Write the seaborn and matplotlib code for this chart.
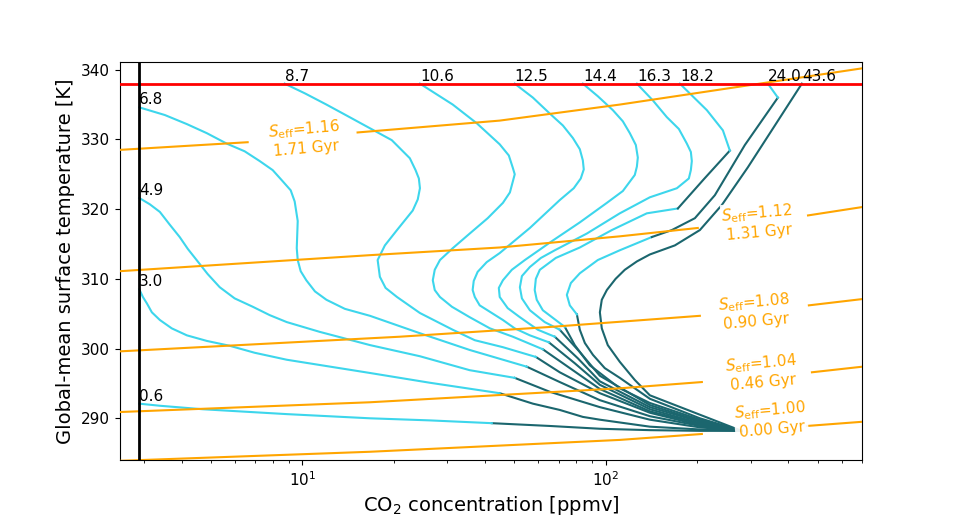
import numpy as np
import matplotlib
matplotlib.use("Agg")
import matplotlib.pyplot as plt
import seaborn as sns

LIGHT = "#3dd6ec"
DARK = "#1b666e"
ORANGE = "orange"

co2_floor = 2.9      # ppmv, lower CO2 limit
t_limit = 338.0      # K, upper temperature limit

# ---- evolution tracks (start at today's 280 ppmv state, colour flips at the switch indices) ----
co2_0p6 = [280, 204.2, 139.7, 95.6, 65.4, 42.1, 26.3, 16.7, 8.88, 4.69, 3.39, 2.9]
temp_0p6 = [288.2, 288.2, 288.3, 288.5, 288.9, 289.3, 289.7, 290.0, 290.6, 291.3, 291.8, 292.1]
switch_0p6 = [5]

co2_3p0 = [280, 204.2, 139.7, 95.6, 84.0, 70.5, 57.5, 44.7, 26.3, 16.7, 8.88, 6.96, 5.76, 4.84, 4.16,
           3.71, 3.39, 3.19, 3.07, 2.98, 2.9]
temp_3p0 = [288.2, 288.4, 288.8, 289.8, 290.2, 291.2, 292.1, 293.6, 295.1, 296.5, 298.4, 299.4, 300.4,
            301.1, 301.9, 302.9, 304.1, 305.2, 306.5, 307.4, 308.5]
switch_3p0 = [7]

co2_4p9 = [280, 204.2, 139.7, 95.6, 65.4, 50.1, 35.6, 24.4, 16.7, 11.4, 8.88, 7.80, 6.86, 5.98, 5.34,
           4.87, 4.48, 4.19, 3.94, 3.65, 3.39, 3.14, 2.9]
temp_4p9 = [288.2, 288.7, 289.8, 291.6, 293.8, 295.8, 296.9, 298.9, 300.5, 302.4, 303.8, 304.8, 306.0,
            307.2, 308.8, 310.7, 312.7, 314.3, 316.0, 317.8, 319.6, 320.7, 321.6]
switch_4p9 = [5]

co2_6p8 = [280, 204.2, 139.7, 95.6, 70.5, 54.9, 35.6, 24.4, 16.7, 13.8, 12.0, 11.0, 10.3, 9.87, 9.65,
           9.58, 9.65, 9.43, 9.15, 8.61, 7.98, 7.23, 6.45, 5.63, 4.84, 4.16, 3.52, 2.9]
temp_6p8 = [288.2, 288.9, 290.3, 292.6, 295.2, 297.4, 299.8, 302.2, 304.7, 305.7, 307.0, 308.2, 309.8,
            311.1, 312.7, 314.4, 318.3, 321.1, 322.7, 324.0, 325.6, 326.9, 328.3, 329.4, 330.9, 332.2,
            333.5, 334.6]
switch_6p8 = [5]

co2_8p7 = [280, 204.2, 139.7, 95.6, 70.5, 58.8, 45.8, 37.0, 31.3, 24.4, 20.5, 18.8, 18.0, 17.85, 17.7,
           18.7, 20.5, 23.1, 24.0, 24.4, 24.2, 23.6, 22.6, 19.7, 16.7, 14.3, 12.0, 10.2, 8.74]
temp_8p7 = [288.2, 289.0, 290.8, 293.6, 296.6, 298.8, 300.2, 301.2, 302.7, 305.1, 307.4, 308.7, 310.3,
            311.5, 312.7, 314.8, 317.0, 319.8, 321.4, 323.0, 324.4, 325.6, 327.3, 329.9, 331.6, 333.2,
            335.0, 336.6, 338.0]
switch_8p7 = [5]

co2_10p6 = [280, 204.2, 139.7, 95.6, 76.1, 62.0, 49.4, 41.5, 35.6, 31.1, 28.4, 27.3, 26.9, 27.3, 28.4,
            31.3, 35.6, 40.8, 45.8, 48.3, 49.4, 50.1, 49.4, 47.9, 44.7, 37.6, 31.3, 24.4]
temp_10p6 = [288.2, 289.2, 291.0, 294.2, 297.2, 299.9, 301.7, 302.9, 304.5, 306.0, 307.4, 308.4, 309.8,
             311.3, 312.7, 314.4, 316.5, 318.7, 320.9, 322.4, 324.0, 325.0, 325.9, 327.7, 329.3, 332.3,
             335.0, 338.0]
switch_10p6 = [5]

co2_12p5 = [280, 204.2, 139.7, 95.6, 79.0, 64.9, 56.2, 50.1, 45.8, 38.4, 37.0, 36.4, 36.7, 37.8, 40.5,
            44.7, 56.2, 70.5, 78.4, 82.7, 84.6, 84.0, 82.1, 77.9, 72.2, 65.4, 57.5, 50.1]
temp_12p5 = [288.2, 289.3, 291.3, 294.8, 297.9, 300.9, 301.9, 302.9, 304.1, 306.2, 307.4, 308.4, 309.7,
             311.0, 312.4, 313.7, 317.3, 321.3, 323.0, 324.4, 325.7, 327.0, 328.6, 330.2, 332.0, 333.7,
             336.0, 338.0]
switch_12p5 = [5]

co2_14p4 = [280, 204.2, 139.7, 95.6, 80.9, 67.9, 59.7, 52.1, 47.5, 44.7, 44.4, 45.8, 49.0, 54.1, 66.9,
            82.1, 100.8, 113.8, 124.6, 126.6, 127.5, 125.6, 120.0, 113.8, 105.5, 94.1, 84.0]
temp_14p4 = [288.2, 289.5, 291.6, 295.3, 298.6, 301.7, 302.7, 304.5, 305.8, 307.4, 308.7, 309.8, 311.3,
             312.7, 315.5, 318.1, 320.9, 322.6, 324.9, 326.1, 327.4, 329.2, 330.9, 332.6, 334.2, 336.2,
             338.0]
switch_14p4 = [5]

co2_16p3 = [280, 204.2, 139.7, 95.6, 82.1, 70.5, 62.9, 56.2, 52.9, 52.1, 52.9, 56.2, 61.1, 67.9, 86.6,
            111.2, 139.7, 171.5, 187.8, 190.7, 192.1, 190.7, 185.0, 174.1, 158.9, 142.9, 126.6]
temp_16p3 = [288.2, 289.6, 291.9, 296.1, 299.5, 302.7, 303.8, 305.5, 307.2, 308.8, 310.4, 311.7, 313.0,
             314.1, 316.5, 319.4, 321.7, 323.0, 324.4, 325.6, 326.9, 328.2, 329.4, 331.5, 333.2, 335.6,
             338.0]
switch_16p3 = [5]

co2_18p2 = [280, 204.2, 139.7, 111.2, 88.6, 79.0, 73.3, 62.0, 59.2, 58.3, 58.8, 60.6, 68.4, 82.1, 104.7,
            136.5, 172.8, 210.5, 256.4, 243.2, 215.3, 175.4]
temp_18p2 = [288.2, 289.8, 292.2, 294.3, 297.6, 300.5, 303.1, 305.5, 307.0, 308.4, 310.0, 311.3, 313.0,
             314.5, 317.0, 319.4, 320.1, 324.3, 328.4, 331.3, 334.2, 338.0]
switch_18p2 = [6, 16, 18]

co2_24p0 = [280, 204.2, 139.7, 111.2, 99.2, 90.7, 85.3, 82.1, 80.3, 76.1, 74.4, 76.7, 82.1, 94.1, 111.2,
            141.8, 165.1, 196.6, 228.8, 287.3, 369.1, 342.1]
temp_24p0 = [288.2, 290.0, 292.8, 295.8, 297.2, 299.1, 300.8, 302.7, 304.9, 306.2, 307.7, 309.4, 310.8,
             312.7, 314.1, 316.0, 317.0, 318.7, 322.0, 329.2, 336.0, 338.0]
switch_24p0 = [8, 15, 20]

co2_43p6 = [280, 139.7, 124.6, 111.2, 101.5, 97.0, 95.6, 97.0, 100.8, 107.7, 115.5, 126.6, 139.7, 168.9,
            204.2, 241.3, 293.9, 360.8, 442.8]
temp_43p6 = [288.2, 293.3, 295.5, 298.1, 300.5, 302.9, 305.2, 307.0, 308.4, 310.0, 311.3, 312.5, 313.5,
             314.8, 317.0, 320.6, 326.0, 332.0, 338.0]
switch_43p6 = []

track_labels = ["0.6", "3.0", "4.9", "6.8", "8.7", "10.6", "12.5", "14.4", "16.3", "18.2", "24.0", "43.6"]
track_co2 = [co2_0p6, co2_3p0, co2_4p9, co2_6p8, co2_8p7, co2_10p6, co2_12p5, co2_14p4, co2_16p3,
             co2_18p2, co2_24p0, co2_43p6]
track_temp = [temp_0p6, temp_3p0, temp_4p9, temp_6p8, temp_8p7, temp_10p6, temp_12p5, temp_14p4,
              temp_16p3, temp_18p2, temp_24p0, temp_43p6]
track_switch = [switch_0p6, switch_3p0, switch_4p9, switch_6p8, switch_8p7, switch_10p6, switch_12p5,
                switch_14p4, switch_16p3, switch_18p2, switch_24p0, switch_43p6]

# ---- constant effective-insolation lines (nan = gap for the label) ----
nan = np.nan
seff_co2_116 = [2.5, 6.60, nan, 15.2, 44.7, 111.2, 700]
seff_t_116 = [328.5, 329.6, nan, 331.0, 332.7, 335.0, 340.2]
seff_co2_112 = [2.5, 16.7, 44.7, 111.2, 201.0, nan, 464, 700]
seff_t_112 = [311.1, 313.4, 314.5, 316.1, 317.3, nan, 319.1, 320.3]
seff_co2_108 = [2.5, 20.9, 65.4, 204.2, nan, 467, 700]
seff_t_108 = [299.6, 301.7, 303.1, 304.7, nan, 306.2, 307.1]
seff_co2_104 = [2.5, 16.7, 111.2, 207.3, nan, 478, 700]
seff_t_104 = [290.9, 292.3, 294.3, 295.2, nan, 296.6, 297.4]
seff_co2_100 = [2.5, 16.7, 111.2, 207.3, nan, 460, 700]
seff_t_100 = [283.9, 285.2, 286.9, 287.75, nan, 288.9, 289.5]

seff_values = ["1.16", "1.12", "1.08", "1.04", "1.00"]
seff_ages = ["1.71", "1.31", "0.90", "0.46", "0.00"]
seff_lines_co2 = [seff_co2_116, seff_co2_112, seff_co2_108, seff_co2_104, seff_co2_100]
seff_lines_t = [seff_t_116, seff_t_112, seff_t_108, seff_t_104, seff_t_100]
seff_label_co2 = [10.2, 317, 310, 327, 350]
seff_label_t = [330.2, 318.1, 305.4, 296.6, 289.9]


def split_nan(xs, ys):
    pieces, cx, cy = [], [], []
    for x, y in zip(xs, ys):
        if np.isnan(x):
            pieces.append((cx, cy))
            cx, cy = [], []
        else:
            cx.append(x)
            cy.append(y)
    pieces.append((cx, cy))
    return pieces


def draw_track(ax, co2, temp, switches):
    cuts = [0] + list(switches) + [len(co2) - 1]
    for k in range(len(cuts) - 1):
        a, b = cuts[k], cuts[k + 1]
        color = DARK if k % 2 == 0 else LIGHT
        sns.lineplot(x=co2[a:b + 1], y=temp[a:b + 1], sort=False, estimator=None,
                     color=color, lw=1.5, ax=ax, legend=False, zorder=2)


fig, ax = plt.subplots(figsize=(9.58, 5.17), dpi=100)
ax.set_xscale("log")

for co2, temp, sw, lab in zip(track_co2, track_temp, track_switch, track_labels):
    draw_track(ax, co2, temp, sw)
    ax.text(co2[-1], temp[-1], lab, ha="left", va="bottom", fontsize=11, zorder=5)

for xs, ys in zip(seff_lines_co2, seff_lines_t):
    for px, py in split_nan(xs, ys):
        sns.lineplot(x=px, y=py, sort=False, estimator=None, color=ORANGE, lw=1.5,
                     ax=ax, legend=False, zorder=3)

for val, age, lx, ly in zip(seff_values, seff_ages, seff_label_co2, seff_label_t):
    ax.text(lx, ly, "$S_{\\rm eff}$=" + val + "\n" + age + " Gyr", color=ORANGE, fontsize=11,
            ha="center", va="center", rotation=5, rotation_mode="anchor", zorder=4,
            bbox=dict(facecolor="white", edgecolor="none", pad=0.5, alpha=0.9))

ax.axhline(t_limit, color="red", lw=2, zorder=4)
ax.axvline(co2_floor, color="black", lw=2, zorder=4)

ax.set_xlim(2.5, 700)
ax.set_ylim(284, 341.1)
ax.set_yticks([290, 300, 310, 320, 330, 340])
ax.tick_params(labelsize=11)
ax.set_xlabel("CO$_2$ concentration [ppmv]", fontsize=14)
ax.set_ylabel("Global-mean surface temperature [K]", fontsize=14)

fig.savefig("out.png", dpi=100)
